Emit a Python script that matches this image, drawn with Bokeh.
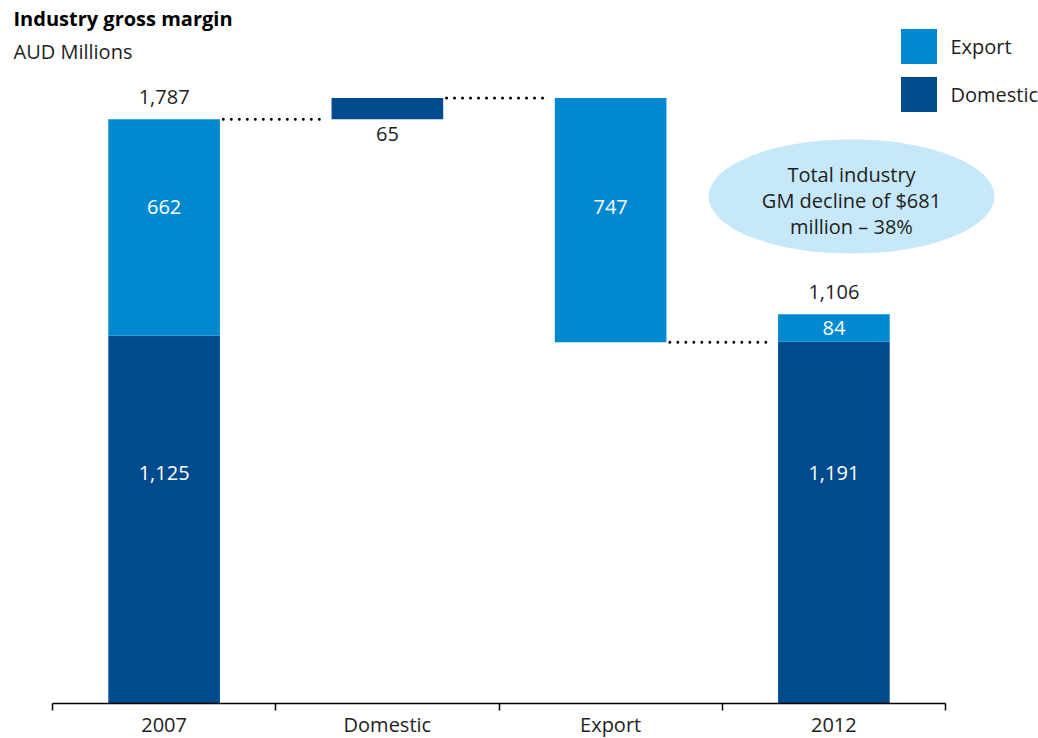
from bokeh.plotting import figure
from bokeh.models import Range1d, FixedTicker, Legend, LegendItem, ColumnDataSource
from bokeh.core.properties import value
from bokeh.embed import file_html
from bokeh.resources import INLINE

# ---- data ----
categories = ["2007", "Domestic", "Export", "2012"]
start_domestic = 1125
start_export = 662
domestic_change = 65
export_change = -747
end_domestic_bar = 1106
end_export = 84
# label texts as printed on the chart
label_start_total = "1,787"
label_start_domestic = "1,125"
label_start_export = "662"
label_domestic_change = "65"
label_export_change = "747"
label_end_total = "1,106"
label_end_domestic = "1,191"
label_end_export = "84"
callout_lines = ["Total industry", "GM decline of $681", "million \u2013 38%"]

# ---- styles ----
EXPORT_COLOR = "#0089D0"
DOMESTIC_COLOR = "#004B8D"
TEXT_COLOR = "#1E1E1E"
FONT = "Open Sans"
FS = "20px"

# layout helpers (pixel -> data for annotations)
X0_PX, X_SCALE = 52.0, 223.25
Y0_PX, Y_SCALE = 703.0, 0.327
FRAME_W, FRAME_H = 1038, 703


def dx(px):
    return (px - X0_PX) / X_SCALE


def dy(py):
    return (Y0_PX - py) / Y_SCALE


start_total = start_domestic + start_export
after_domestic = start_total + domestic_change
after_export = after_domestic + export_change
end_total = end_domestic_bar + end_export

xc = [i + 0.5 for i in range(len(categories))]
BW = 0.5

p = figure(frame_width=FRAME_W, frame_height=FRAME_H, output_backend="svg",
           toolbar_location=None,
           x_range=Range1d(dx(0), dx(FRAME_W)), y_range=Range1d(0, dy(0)),
           y_axis_location=None, min_border_left=0, min_border_right=0,
           min_border_top=0, min_border_bottom=0)
p.outline_line_color = None
p.xgrid.visible = False
p.ygrid.visible = False
p.background_fill_color = "white"

dom_src = ColumnDataSource(dict(x=[xc[0], xc[1], xc[3]],
                                bottom=[0, start_total, 0],
                                top=[start_domestic, after_domestic, end_domestic_bar]))
exp_src = ColumnDataSource(dict(x=[xc[0], xc[2], xc[3]],
                                bottom=[start_domestic, after_export, end_domestic_bar],
                                top=[start_total, after_domestic, end_total]))
dom_r = p.vbar(x="x", bottom="bottom", top="top", width=BW, source=dom_src,
               fill_color=DOMESTIC_COLOR, line_color=None)
exp_r = p.vbar(x="x", bottom="bottom", top="top", width=BW, source=exp_src,
               fill_color=EXPORT_COLOR, line_color=None)

# connectors
p.segment(x0=[xc[0] + BW / 2 + 0.015, xc[1] + BW / 2 + 0.015, xc[2] + BW / 2 + 0.015],
          x1=[xc[1] - BW / 2 - 0.02, xc[2] - BW / 2 - 0.02, xc[3] - BW / 2 - 0.02],
          y0=[start_total, after_domestic, after_export],
          y1=[start_total, after_domestic, after_export],
          line_color="black", line_width=3, line_dash="0 8", line_cap="round")

# outside labels
p.text(x=[xc[0], xc[3]], y=[start_total, end_total], text=[label_start_total, label_end_total],
       text_align="center", text_baseline="middle", y_offset=-22,
       text_font=value(FONT), text_font_size=FS, text_color=TEXT_COLOR)
p.text(x=[xc[1]], y=[start_total], text=[label_domestic_change],
       text_align="center", text_baseline="middle", y_offset=15,
       text_font=value(FONT), text_font_size=FS, text_color=TEXT_COLOR)

# inside labels
p.text(x=[xc[0], xc[0], xc[2], xc[3], xc[3]],
       y=[dy(206), dy(472), dy(206), (end_domestic_bar + end_total) / 2, dy(472)],
       text=[label_start_export, label_start_domestic, label_export_change,
             label_end_export, label_end_domestic],
       text_align="center", text_baseline="middle",
       text_font=value(FONT), text_font_size=FS, text_color="white")

# callout ellipse
ex, ey = dx(851), dy(196)
p.ellipse(x=[ex], y=[ey], width=[286], height=[114], width_units="screen",
          height_units="screen", fill_color="#C6E8F8", line_color=None)
p.text(x=[ex] * 3, y=[ey] * 3, text=callout_lines, y_offset=[-22, 4, 30],
       text_align="center", text_baseline="middle",
       text_font=value(FONT), text_font_size=FS, text_color=TEXT_COLOR)

# titles
p.text(x=[dx(13)], y=[dy(18)], text=["Industry gross margin"], text_align="left",
       text_baseline="middle", text_font=value(FONT), text_font_size="20px",
       text_font_style="bold", text_color="black")
p.text(x=[dx(13)], y=[dy(51)], text=["AUD Millions"], text_align="left",
       text_baseline="middle", text_font=value(FONT), text_font_size=FS,
       text_color=TEXT_COLOR)

# axis
ax = p.xaxis[0]
ax.ticker = FixedTicker(ticks=xc, minor_ticks=[0, 1, 2, 3, 4])
ax.major_label_overrides = {x: c for x, c in zip(xc, categories)}
ax.bounds = (0, 4)
ax.major_tick_out = 0
ax.major_tick_in = 0
ax.minor_tick_out = 7
ax.minor_tick_in = 0
ax.minor_tick_line_color = "black"
ax.minor_tick_line_width = 1.5
ax.axis_line_color = "black"
ax.axis_line_width = 1.5
ax.major_label_standoff = 0
ax.major_label_text_font = FONT
ax.major_label_text_font_size = FS
ax.major_label_text_color = TEXT_COLOR

legend = Legend(items=[LegendItem(label="Export", renderers=[exp_r]),
                       LegendItem(label="Domestic", renderers=[dom_r])],
                location=(895.5, 587), glyph_width=45, glyph_height=44, spacing=4,
                padding=0, margin=0, border_line_color=None, background_fill_alpha=0,
                label_standoff=10, label_text_font=FONT, label_text_font_size=FS,
                label_text_color=TEXT_COLOR)
p.add_layout(legend)

open("out.html", "w").write(file_html(p, INLINE))
